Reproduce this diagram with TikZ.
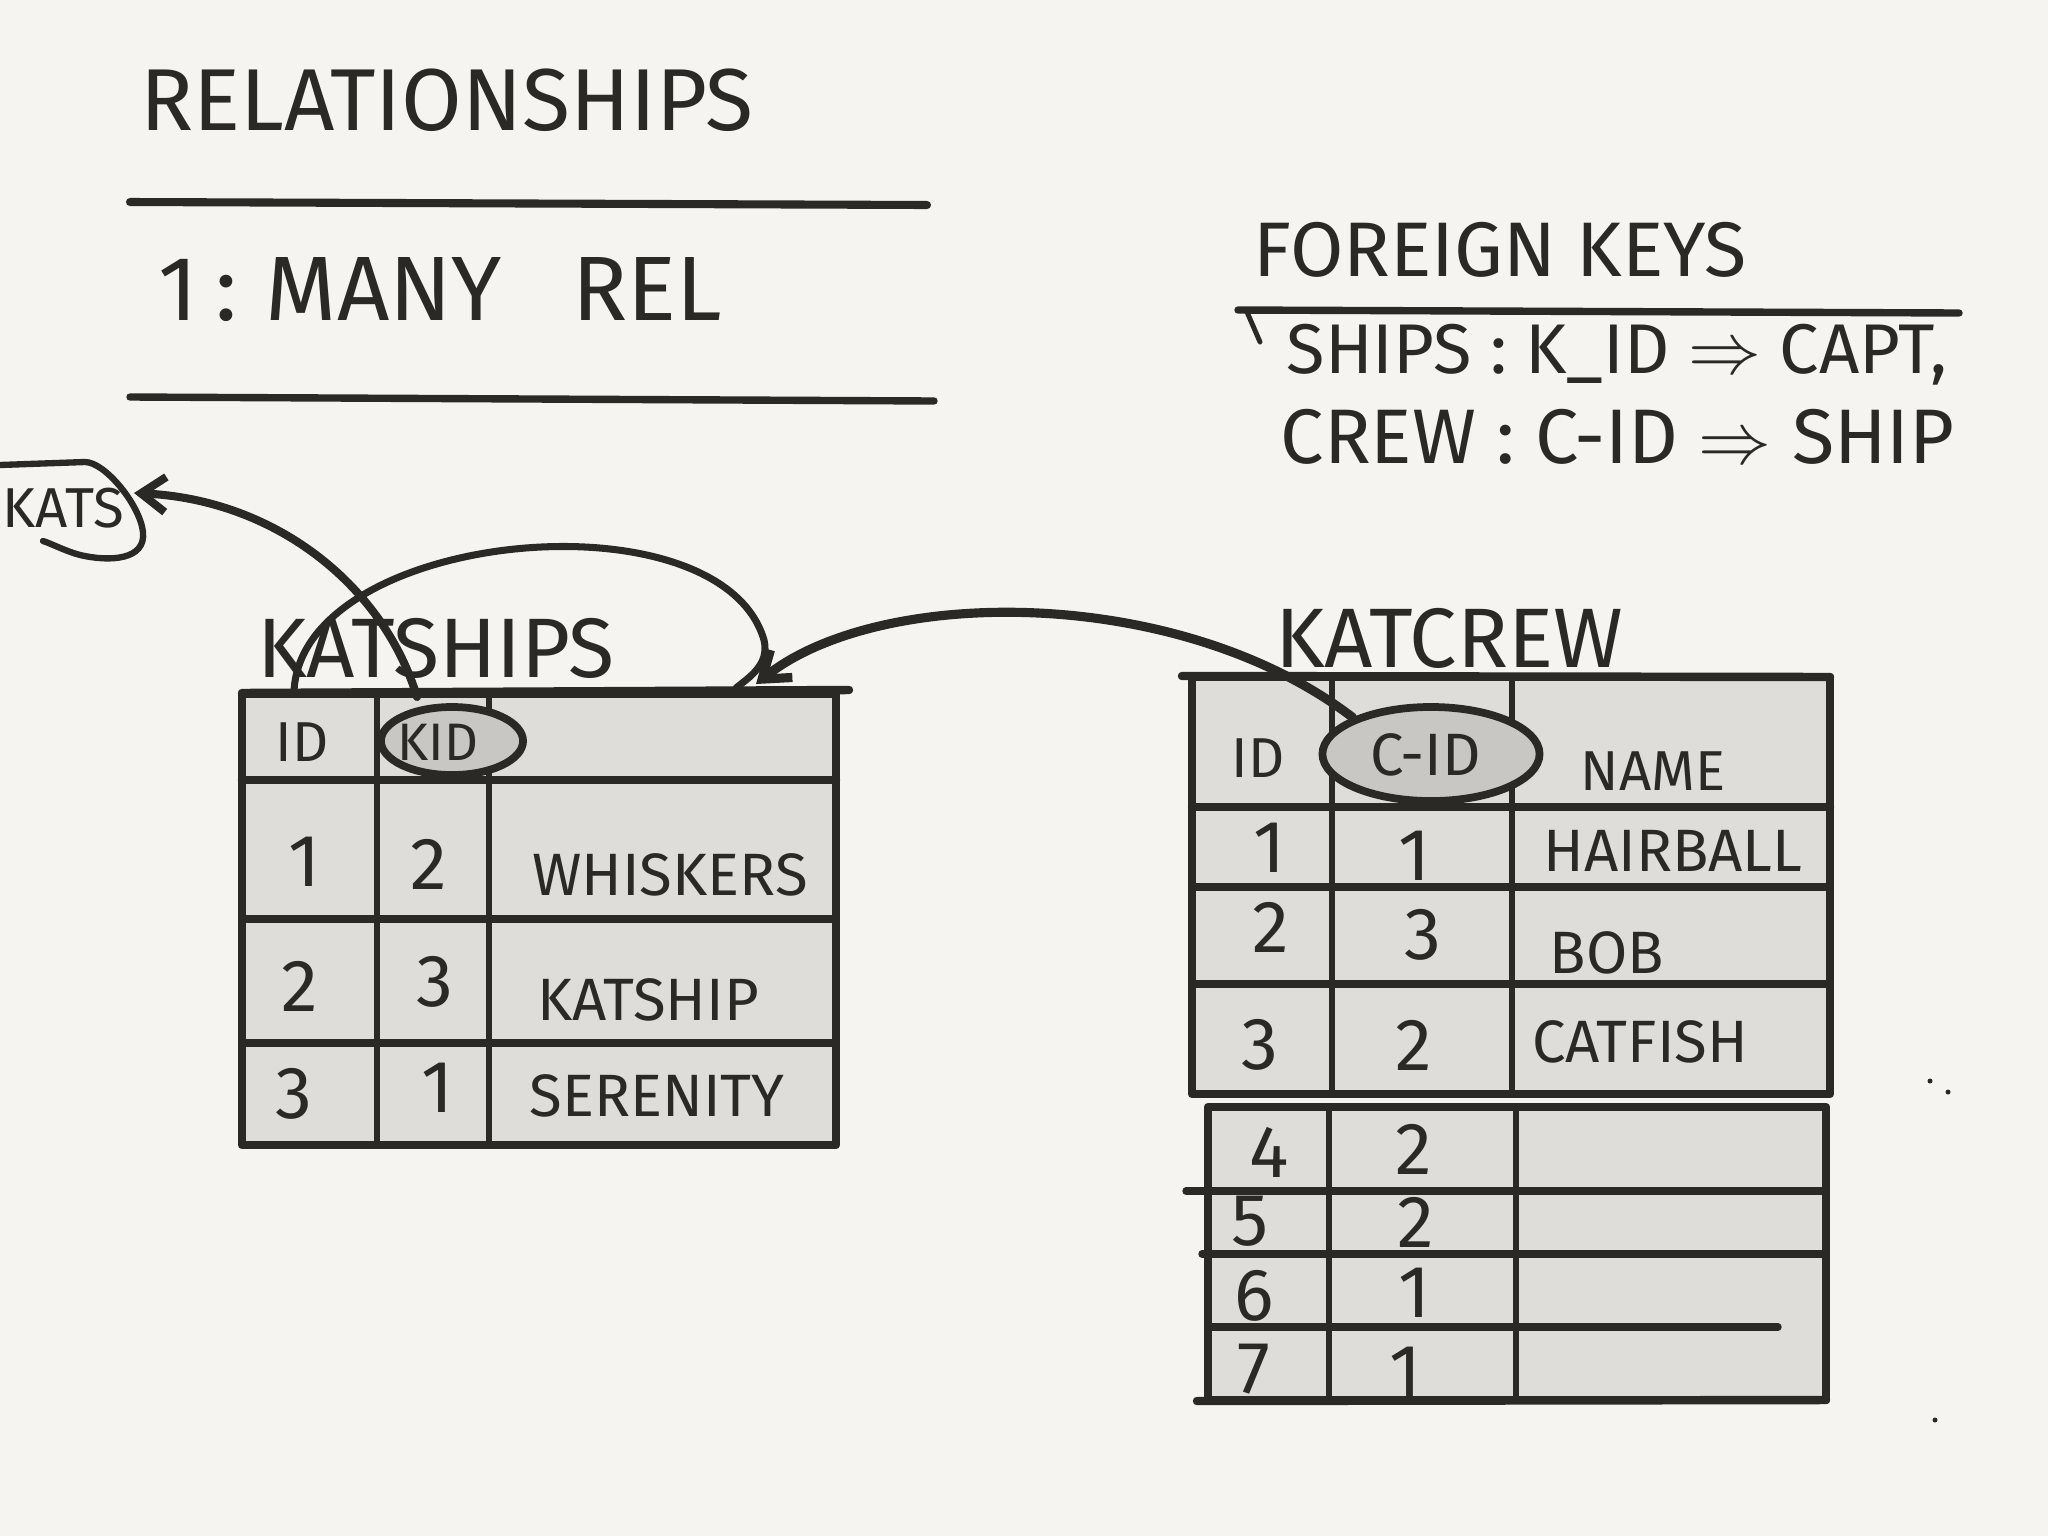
\documentclass[tikz,border=0pt]{standalone}
\usepackage{fontspec}
\setmainfont{Fira Sans}
\usetikzlibrary{shapes.geometric,arrows.meta}
\definecolor{bgc}{HTML}{F5F4F0}
\definecolor{cellc}{HTML}{DEDDD9}
\definecolor{ellc}{HTML}{C8C7C4}
\definecolor{inkc}{HTML}{2A2925}
\newcommand\myfs[1]{\fontsize{#1}{#1}\selectfont}
\begin{document}
\begin{tikzpicture}[x=0.01cm,y=-0.01cm,
  ink/.style={draw=inkc,line cap=round,line join=round},
  frame/.style={ink,line width=2.4pt},
  gridln/.style={ink,line width=1.7pt},
  rowln/.style={ink,line width=2.1pt},
  rule/.style={ink,line width=2.1pt},
  pen/.style={ink,line width=1.4pt},
  lbl/.style={text=inkc,inner sep=0pt},
  digit/.style={lbl,font=\myfs{21}},
  cellname/.style={lbl,font=\myfs{17}},
  keyell/.style={ellipse,draw=inkc,line width=2.2pt,fill=ellc,inner sep=0pt},
  conn/.style={ink,line width=2.3pt}
]
\fill[bgc] (0,0) rectangle (2048,1536);
\useasboundingbox (0,0) rectangle (2048,1536);

% ---------- headings ----------
\node[lbl,font=\myfs{25}] (title) at (447,100) {RELATIONSHIPS};
\draw[rule,line width=2.3pt] (130,202) -- (927,205);
\node[lbl,font=\myfs{26},anchor=west] (rel) at (158,290) {1\hspace{5pt}:\hspace{8pt}MANY\hspace{20pt}REL};
\draw[rule] (130,397) -- (934,401);

\node[lbl,font=\myfs{22}] (fk) at (1500,250) {FOREIGN KEYS};
\draw[rule] (1238,310) -- (1959,313);
\draw[pen] (1247,312) -- (1260,342);
\node[lbl,font=\myfs{20},anchor=west] (fk1) at (1286,355) {SHIPS : K\_ID $\Rightarrow$ CAPT,};
\node[lbl,font=\myfs{22},anchor=west] (fk2) at (1280,437) {CREW : C-ID $\Rightarrow$ SHIP};

% ---------- KATSHIPS table ----------
\node[lbl,font=\myfs{24}] (shipslbl) at (436,648) {KATSHIPS};
\fill[cellc] (242,694) rectangle (836,1145);
\draw[gridln] (377,694) -- (377,1145);
\draw[gridln] (489,694) -- (489,1145);
\draw[frame] (242,780) -- (836,780);
\draw[rowln] (242,919) -- (836,919);
\draw[rowln] (242,1043) -- (836,1043);
\draw[frame] (242,694) rectangle (836,1145);
\draw[frame] (242,693) -- (849,690);
\node[keyell,minimum width=1.42cm,minimum height=0.68cm] (kid) at (452,741) {};
\node[lbl,font=\myfs{16}] (lid) at (302,742) {ID};
\node[lbl,font=\myfs{15}] (lkid) at (438,742) {KID};
\node[digit] (l11) at (304,862) {1};
\node[digit] (l12) at (429,864) {2};
\node[cellname] (l13) at (670,875) {WHISKERS};
\node[digit] (l21) at (300,986) {2};
\node[digit] (l22) at (435,982) {3};
\node[cellname] (l23) at (648,1000) {KATSHIP};
\node[digit] (l31) at (294,1094) {3};
\node[digit] (l32) at (437,1088) {1};
\node[cellname] (l33) at (657,1096) {SERENITY};

% ---------- KATCREW table ----------
\node[lbl,font=\myfs{24}] (crewlbl) at (1449,638) {KATCREW};
\fill[cellc] (1192,677) rectangle (1830,1094);
\draw[gridln] (1332,677) -- (1332,1094);
\draw[gridln] (1512,677) -- (1512,1094);
\draw[frame] (1192,807) -- (1830,807);
\draw[rowln] (1192,887) -- (1830,887);
\draw[rowln] (1192,984) -- (1830,984);
\draw[frame] (1192,677) rectangle (1830,1094);
\draw[frame] (1182,676) -- (1830,677);
\node[keyell,minimum width=2.17cm,minimum height=0.94cm] (cid) at (1431,754) {};
\node[lbl,font=\myfs{16}] (rid) at (1258,758) {ID};
\node[lbl,font=\myfs{17}] (rcid) at (1426,755) {C-ID};
\node[lbl,font=\myfs{16}] (rname) at (1653,771) {NAME};
\node[digit] (r11) at (1269,848) {1};
\node[digit] (r12) at (1414,856) {1};
\node[cellname] (r13) at (1673,851) {HAIRBALL};
\node[digit] (r21) at (1271,927) {2};
\node[digit] (r22) at (1423,935) {3};
\node[cellname] (r23) at (1607,953) {BOB};
\node[digit] (r31) at (1260,1045) {3};
\node[digit] (r32) at (1414,1045) {2};
\node[cellname] (r33) at (1640,1042) {CATFISH};

\fill[cellc] (1208,1107) rectangle (1826,1400);
\draw[gridln] (1329,1107) -- (1329,1400);
\draw[gridln] (1516,1107) -- (1516,1400);
\draw[rowln] (1186,1191) -- (1826,1191);
\draw[rowln] (1202,1254) -- (1826,1254);
\draw[rowln] (1212,1327) -- (1778,1327);
\draw[frame] (1208,1107) rectangle (1826,1400);
\draw[frame] (1197,1401) -- (1826,1400);
\node[digit] (r41) at (1269,1152) {4};
\node[digit] (r42) at (1414,1149) {2};
\node[digit] (r51) at (1250,1221) {5};
\node[digit] (r52) at (1416,1222) {2};
\node[digit] (r61) at (1254,1296) {6};
\node[digit] (r62) at (1414,1293) {1};
\node[digit] (r71) at (1254,1369) {7};
\node[digit] (r72) at (1405,1372) {1};

% ---------- KATS bubble ----------
\node[lbl,font=\myfs{16},anchor=west] (kats) at (2,508) {KATS};
\draw[pen,line width=1.8pt] (0,465) -- (85,462) .. controls (105,462) and (140,505) .. (143,532)
  .. controls (146,560) and (110,562) .. (80,555) .. controls (65,551) and (50,543) .. (43,541);

% ---------- connectors ----------
\coordinate (kidtop) at (417,697);
\coordinate (katsin) at (134,493);
\draw[conn,-{Straight Barb[length=7pt,width=10pt,line width=2.3pt]}] (kidtop) .. controls (385,590) and (280,500) .. (katsin);

\coordinate (idtop) at (294,692);
\coordinate (shipsend) at (736,688);
\draw[conn,line width=2pt] (idtop) .. controls (300,530) and (720,490) .. (764,640)
  .. controls (770,665) and (748,678) .. (shipsend);

\coordinate (shipsTR) at (756,684);
\draw[conn,line width=2.6pt,-{Straight Barb[length=7pt,width=10pt]}] (cid.155) .. controls (1180,585) and (880,585) .. (shipsTR);

% ---------- specks ----------
\fill[inkc] (1930,1081) circle (2.5);
\fill[inkc] (1948,1092) circle (2.5);
\fill[inkc] (1935,1420) circle (2.5);
\end{tikzpicture}
\end{document}
